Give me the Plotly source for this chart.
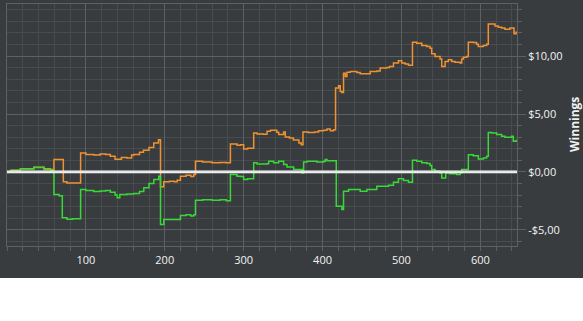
import plotly.graph_objects as go

# Hand number at each step change, and cumulative winnings ($)
orange_x = [0, 5, 17, 34, 47, 55, 59.5, 71.4, 76, 93.3, 100, 110, 118, 125, 131, 137, 145, 152, 158, 161, 168, 173, 180, 186, 192,
            194.6, 198.7, 206, 212, 215.7, 219.9, 227, 233, 236.7, 238.9, 248, 260, 270, 278, 283.2, 291.6, 296, 300, 305, 312.7,
            317, 325, 329.6, 334, 342, 344.4, 350.7, 352.8, 358, 363, 370, 373, 375.2, 382, 390, 395, 401.4, 405.6, 409.8, 414,
            416.5, 420.3, 422.4, 424.5, 426.6, 428.8, 430.9, 435.1, 443.5, 447.7, 456.2, 460.4, 468.8, 473, 481.5, 485,
            489.9, 496.2, 500.4, 504.7, 508.9, 514, 519.4, 525.8, 532.1, 536.3, 538.4, 542.6, 549, 551.1, 555.3, 559.5, 563.7,
            567.9, 574.3, 576.4, 578.5, 582.7, 584.8, 591.1, 595.3, 597.5, 603.8, 608, 610.1, 618.6, 622.8, 627, 631.2, 637.6,
            641.8, 642.7, 645.2, 646.5]
orange_y = [0.0, 0.15, 0.28, 0.4, 0.28, 0.2, 1.06, -0.86, -0.95, 1.64, 1.5, 1.45, 1.55, 1.5, 1.35, 1.1, 1.25, 1.2, 1.45, 1.5, 1.7, 1.86, 2.1, 2.5, 2.78,
            -1.29, -0.86, -0.8, -0.85, -0.72, -0.38, -0.3, -0.4, -0.23, 0.91, 0.85, 0.8, 0.82, 0.78, 2.41, 2.3, 2.35, 1.98, 2.05, 3.36,
            3.27, 3.25, 3.5, 3.59, 3.42, 3.22, 3.44, 3.02, 2.93, 2.75, 2.5, 2.35, 3.45, 3.4, 3.45, 3.55, 3.6, 3.7, 3.55, 3.65,
            7.24, 7.44, 6.95, 6.86, 8.53, 8.24, 8.6, 8.67, 8.58, 8.47, 8.47, 8.67, 8.72, 8.97, 9.02, 9.1,
            9.4, 9.6, 9.4, 9.31, 9.2, 11.2, 11.12, 10.92, 10.83, 10.68, 10.2, 9.97, 9.74, 9.1, 9.53, 9.68, 9.53,
            9.48, 9.4, 9.74, 9.91, 9.97, 11.2, 11.17, 11.03, 10.83, 10.92, 11.03, 12.78, 12.61, 12.5, 12.42, 12.32, 12.42,
            12.42, 11.92, 12.07, 12.07]

green_x = [0, 5, 17, 30, 34, 42.7, 46.8, 55.3, 59.5, 66, 70.1, 76, 83, 93.3, 100, 110, 118, 125, 131, 137, 139.7, 143, 152, 160.8,
           168, 173.4, 180, 186.1, 192.4, 194.6, 198.7, 215.7, 219.9, 227, 233, 236.7, 238.9, 248, 260, 270, 278, 283.2, 291.6,
           296, 300, 305, 312.7, 317, 329.6, 331.7, 338, 344.4, 350.7, 354.9, 363.4, 373.9, 376, 380.2, 392.9, 401.4, 403.4,
           405.6, 417.4, 424.5, 426.6, 433, 447.7, 456.2, 468.8, 477.2, 483.6, 489.9, 496.2, 502.6, 508.9, 514, 519.4, 525.8,
           532.1, 536.3, 538.4, 542.6, 549, 551.1, 556.1, 561.6, 570.1, 574.3, 576.4, 584.8, 591.1, 597.5, 603.8, 608, 610.1,
           614.3, 620.7, 627, 631.2, 639.7, 641.8, 645.2, 646.5]
green_y = [0.0, 0.11, 0.26, 0.26, 0.37, 0.37, 0.2, 0.14, -1.96, -2.05, -3.97, -4.1, -4.05, -1.53, -1.6, -1.7, -1.65, -1.6, -1.75, -2.0, -2.24, -1.95, -1.9, -1.87,
           -1.7, -1.38, -1.0, -0.66, -0.38, -4.54, -4.11, -4.11, -3.77, -3.7, -3.8, -3.7, -2.45, -2.4, -2.45, -2.4, -2.5, -0.23, -0.38,
           -0.4, -0.66, -0.6, 0.78, 0.69, 0.7, 0.91, 0.78, 0.91, 0.63, 0.42, 0.2, -0.09, 0.86, 0.91, 0.86, 0.91, 1.06,
           0.97, -2.96, -3.25, -1.67, -1.53, -1.67, -1.53, -1.24, -1.24, -1.15, -0.9, -0.6, -0.75, -0.9, 1.0, 0.91, 0.78,
           0.72, 0.55, 0.2, 0.05, -0.09, -0.52, -0.09, -0.15, -0.23, -0.09, 0.2, 1.49, 1.4, 1.12, 1.2, 1.35, 3.41,
           3.36, 3.22, 3.07, 3.0, 3.07, 2.64, 2.72, 2.72]

x_tick_vals = [100, 200, 300, 400, 500, 600]
y_tick_vals = [-5, 0, 5, 10]
y_tick_text = ["-$5,00", "$0,00", "$5,00", "$10,00"]
y_title = "Winnings"

BG = "#393c3f"
MAJOR = "#5e6164"
MINOR = "#494c4f"
FONT = dict(family="Open Sans", size=11, color="#f2f2f2")

fig = go.Figure()
fig.add_trace(go.Scatter(x=orange_x, y=orange_y, mode="lines", line=dict(color="#f0922f", width=1.5, shape="hv"),
                         hoverinfo="skip"))
fig.add_trace(go.Scatter(x=green_x, y=green_y, mode="lines", line=dict(color="#38d838", width=1.5, shape="hv"),
                         hoverinfo="skip"))

fig.update_layout(
    width=583, height=278,
    margin=dict(l=7, r=66, t=4, b=32),
    paper_bgcolor=BG, plot_bgcolor=BG,
    showlegend=False,
    font=FONT,
    xaxis=dict(range=[0, 646.5], tickmode="array", tickvals=x_tick_vals,
               showgrid=True, gridcolor=MAJOR, gridwidth=1,
               ticks="outside", ticklen=4, tickcolor=MAJOR,
               showline=True, linecolor=MAJOR, mirror=True, zeroline=False,
               tickfont=FONT,
               minor=dict(tickmode="linear", tick0=0, dtick=20, showgrid=True, gridcolor=MINOR,
                          ticks="outside", ticklen=4, tickcolor=MAJOR)),
    yaxis=dict(range=[-6.4, 14.5], side="right", tickmode="array", tickvals=y_tick_vals, ticktext=y_tick_text,
               showgrid=True, gridcolor=MAJOR, gridwidth=1,
               ticks="outside", ticklen=8, tickcolor=MAJOR,
               showline=True, linecolor=MAJOR, mirror=True, zeroline=False,
               tickfont=FONT,
               minor=dict(tickmode="linear", tick0=0, dtick=1, showgrid=True, gridcolor=MINOR,
                          ticks="outside", ticklen=4, tickcolor=MAJOR)),
    shapes=[
        dict(type="line", xref="paper", yref="y", x0=0, x1=1, y0=0, y1=0,
             line=dict(color="#ffffff", width=2.6), layer="above"),
        dict(type="line", xref="paper", yref="y", x0=0, x1=1, y0=0, y1=0,
             line=dict(color="#b8b8b8", width=0.6), layer="above"),
    ],
    annotations=[dict(text="<b>" + y_title + "</b>", xref="paper", yref="paper", x=(574 - 7) / 510, y=0.5,
                      xanchor="center", yanchor="middle", textangle=-90, showarrow=False,
                      font=dict(family="Open Sans", size=12, color="#f2f2f2"))],
)

fig.write_html("out.html")
